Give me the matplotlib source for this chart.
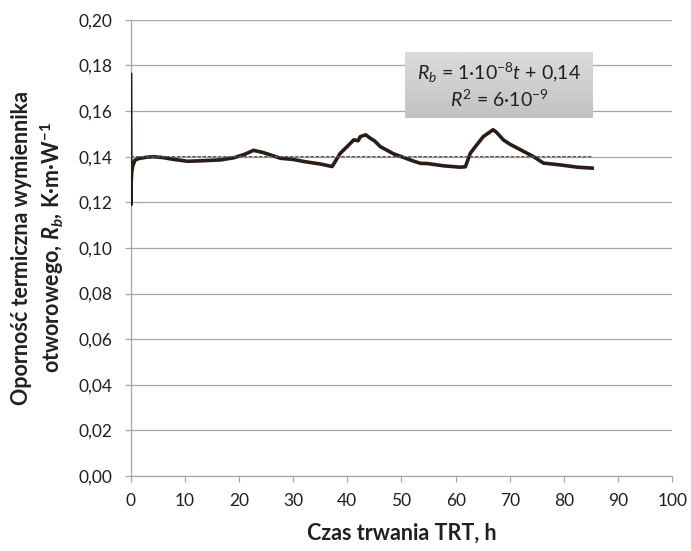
import numpy as np
import matplotlib.pyplot as plt
from matplotlib.ticker import FuncFormatter

plt.rcParams['font.family'] = ['Lato', 'DejaVu Sans']
plt.rcParams['mathtext.fontset'] = 'custom'
plt.rcParams['mathtext.rm'] = 'Lato'
plt.rcParams['mathtext.it'] = 'Lato:italic'
plt.rcParams['mathtext.bf'] = 'Lato:bold'
plt.rcParams['mathtext.bfit'] = 'Lato:bold:italic'

# czas trwania TRT [h] i opór termiczny Rb [K·m/W]
czas = [0.0, 0.03, 0.06, 0.1, 0.2, 0.4, 0.8, 1.5, 3.0, 4.3, 6.0, 8.0, 10.5, 13.0,
        16.6, 19.0, 21.0, 22.7, 24.5, 27.7, 30.0, 32.0, 35.0, 37.2, 38.7, 40.0,
        41.2, 42.0, 42.4, 43.4, 44.3, 45.0, 46.1, 48.6, 50.0, 52.3, 53.5, 54.8,
        57.8, 60.9, 61.8, 62.7, 64.0, 65.1, 66.9, 67.5, 68.8, 70.0, 72.0, 74.4,
        76.2, 79.3, 82.5, 85.2]
rb = [0.176, 0.150, 0.119, 0.128, 0.133, 0.136, 0.1385, 0.1392, 0.1398, 0.1400,
      0.1396, 0.1388, 0.1380, 0.1382, 0.1386, 0.1395, 0.1410, 0.1428, 0.1418,
      0.1393, 0.1388, 0.1379, 0.1368, 0.1357, 0.1415, 0.1445, 0.1474, 0.1470,
      0.1488, 0.1496, 0.1480, 0.1470, 0.1444, 0.1412, 0.1400, 0.1380, 0.1371,
      0.1370, 0.1360, 0.1354, 0.1356, 0.1415, 0.1455, 0.1488, 0.1518, 0.1508,
      0.1474, 0.1455, 0.1430, 0.1400, 0.1372, 0.1364, 0.1354, 0.1350]

# linia trendu: Rb = 1e-8 t + 0,14
trend_a = 1e-8
trend_b = 0.14
trend_t = [0.0, 85.2]

fig = plt.figure(figsize=(6.91, 5.51), dpi=100)
ax = fig.add_axes([0.189, 0.136, 0.784, 0.828])

grid_c = '#a6a6a6'
txt_c = '#231f20'

ax.plot(czas, rb, color='#2a1d17', lw=2.6, solid_joinstyle='round', zorder=3)
tt = np.array(trend_t)
ax.plot(tt, trend_a * tt + trend_b, color='#5a5a5a', lw=1.0,
        linestyle=(0, (2.5, 1.2)), zorder=4)

ax.set_xlim(0, 100)
ax.set_ylim(0, 0.20)
ax.set_xticks(np.arange(0, 101, 10))
ax.set_yticks(np.arange(0, 0.201, 0.02))
ax.yaxis.set_major_formatter(FuncFormatter(lambda v, p: f'{v:.2f}'.replace('.', ',')))
ax.grid(axis='y', color=grid_c, lw=0.9)
ax.set_axisbelow(True)

for s in ['top', 'right']:
    ax.spines[s].set_visible(False)
for s in ['left', 'bottom']:
    ax.spines[s].set_color(grid_c)
    ax.spines[s].set_linewidth(0.9)
ax.tick_params(axis='both', colors=grid_c, length=4, width=0.9,
               labelsize=12.5, labelcolor=txt_c)
ax.tick_params(axis='x', pad=8)
ax.tick_params(axis='y', pad=9)

ax.set_xlabel('Czas trwania TRT, h', fontsize=15.5, fontweight='bold',
              color=txt_c, labelpad=10)
ax.set_ylabel('Oporność termiczna wymiennika\notworowego, $\\mathbfit{R_b}$, K·m·W$^{\\mathbf{-1}}$',
              fontsize=15.5, fontweight='bold', color=txt_c, labelpad=9,
              linespacing=1.3)

# pole z równaniem trendu (gradient szary)
grad = np.linspace(0.86, 0.76, 50).reshape(-1, 1)
ax.imshow(grad, extent=(50.7, 85.4, 0.157, 0.1855), aspect='auto',
          cmap='gray', vmin=0, vmax=1, origin='upper', zorder=5)
ax.text(68.05, 0.1713, '$R_b$ = 1·10$^{-8}$$t$ + 0,14\n$R^{2}$ = 6·10$^{-9}$',
        ha='center', va='center', fontsize=14, color=txt_c, zorder=6,
        linespacing=1.15)
ax.set_xlim(0, 100)
ax.set_ylim(0, 0.20)

fig.savefig('out.png', dpi=100)
